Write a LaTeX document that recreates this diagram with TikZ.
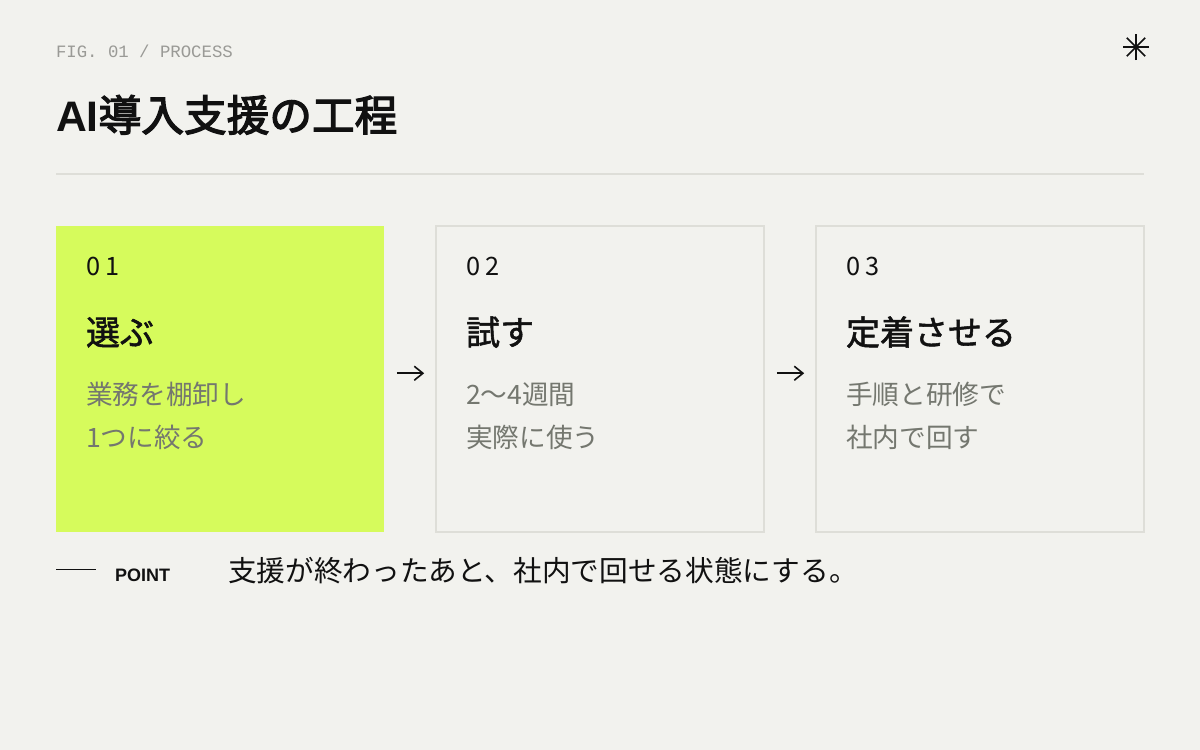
\documentclass[tikz,border=0pt]{standalone}
\usepackage{fontspec}
\setmainfont{Noto Sans CJK JP}
\newfontfamily\jpfont{Noto Sans CJK JP}
\newfontfamily\headfont{Noto Sans CJK JP}[FakeBold=3]
\newfontfamily\stepfont{Noto Sans CJK JP}[FakeBold=1.6]
\newfontfamily\numfont{Noto Sans CJK JP}[LetterSpace=20]
\newfontfamily\figfont{Liberation Mono}
\newfontfamily\pointfont{Liberation Sans}
\usetikzlibrary{arrows.meta}
\definecolor{paper}{HTML}{F2F2EE}
\definecolor{limecard}{HTML}{D6FB5C}
\definecolor{rulegray}{HTML}{DEDED8}
\definecolor{ink}{HTML}{111111}
\definecolor{muted}{HTML}{74776F}
\definecolor{faint}{HTML}{9A9A96}
\newcommand\cardtext[5]{% x, number, title, first line, second line
  \node[cardnum] (num#2) at (#1,275) {#2};
  \node[cardtitle] (title#2) at (#1,345) {#3};
  \node[carddesc] (desc#2) at (#1,447) {#4\\#5}; % base = last line
}
\tikzset{%
  >=Straight Barb,
  card/.style={minimum width=246pt,minimum height=229.5pt,inner sep=0pt,
    line width=1.2pt},%
  txt/.style={inner sep=0pt,outer sep=0pt,anchor=base west},%
  figlabel/.style={txt,text=faint,font=\fontsize{13}{13}\selectfont\figfont},%
  cardnum/.style={txt,text=ink,font=\fontsize{19}{19}\selectfont\numfont},%
  cardtitle/.style={txt,text=ink,font=\fontsize{25.5}{25.5}\selectfont\stepfont},%
  carddesc/.style={txt,text=muted,align=left,
    font=\fontsize{20}{32.25}\selectfont\jpfont},%
  flow/.style={-{Straight Barb[length=6.5pt,width=10.5pt]},ink,
    line width=1.2pt,shorten <=9pt,shorten >=8.25pt},%
  pointlabel/.style={txt,text=ink,font=\fontsize{13.5}{13.5}\selectfont\pointfont\bfseries},%
  pointtext/.style={txt,text=ink,font=\fontsize{21.5}{21.5}\selectfont\jpfont}%
}

\begin{document}
\begin{tikzpicture}[x=0.75pt,y=-0.75pt]
	%% some definitions
	
	\def\cardY{379} % vertical centre of the cards
	\def\lift{4.3pt} % arrows sit a little above the centre
	
	\fill[paper] (0,0) rectangle (1200,750);
	\useasboundingbox (0,0) rectangle (1200,750);
	
	%% header
	
	\node[figlabel] (fig) at (56,57.5) {FIG. 01 / PROCESS};
	\coordinate (star) at (1136,47);
	\foreach \a in {0,45,90,135}
	  \draw[ink,line width=1.3pt] (star) ++(\a:13) -- ++({\a+180}:26);
	\node[txt,text=ink,font=\fontsize{32}{32}\selectfont\headfont] (title) at (56,131) {{\pointfont\bfseries AI}導入支援の工程};
	\coordinate (ruleL) at (56,174);
	\coordinate (ruleR) at (1144,174);
	\draw[rulegray,line width=1.2pt] (ruleL) -- (ruleR);
	
	%% the three steps
	
	\node[card,fill=limecard] (c1) at (220,\cardY) {};
	\node[card,draw=rulegray] (c2) at (600,\cardY) {};
	\node[card,draw=rulegray] (c3) at (980,\cardY) {};
	
	\cardtext{86}{01}{選ぶ}{業務を棚卸し}{1つに絞る}
	\cardtext{466}{02}{試す}{2〜4週間}{実際に使う}
	\cardtext{846}{03}{定着させる}{手順と研修で}{社内で回す}
	
	\draw[flow] ([yshift=\lift]c1.east) -- ([yshift=\lift]c2.west);
	\draw[flow] ([yshift=\lift]c2.east) -- ([yshift=\lift]c3.west);
	
	%% point
	
	\coordinate (dashL) at (56,569.5);
	\coordinate (dashR) at (96,569.5);
	\draw[ink,line width=1.1pt] (dashL) -- (dashR);
	\node[pointlabel] (point) at (115,581) {POINT};
	\node[pointtext] (msg) at (228,581) {支援が終わったあと、社内で回せる状態にする。};
	    	
\end{tikzpicture}
\end{document}
